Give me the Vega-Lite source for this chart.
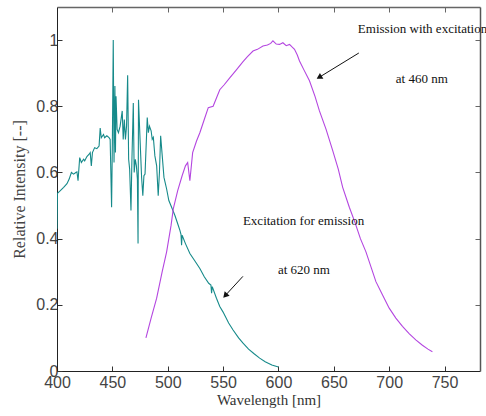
{
  "$schema": "https://vega.github.io/schema/vega-lite/v6.json",
  "width": 423,
  "height": 364,
  "autosize": "none",
  "padding": {"left": 57, "top": 7, "right": 6, "bottom": 45},
  "background": "white",
  "config": {
    "view": {"stroke": null},
    "axis": {"grid": false}
  },
  "datasets": {
    "curves": [
      {"wl": 400, "val": 0.43, "series": "Excitation"},
      {"wl": 400.4, "val": 0.537, "series": "Excitation"},
      {"wl": 403, "val": 0.545, "series": "Excitation"},
      {"wl": 406, "val": 0.555, "series": "Excitation"},
      {"wl": 409, "val": 0.566, "series": "Excitation"},
      {"wl": 411, "val": 0.58, "series": "Excitation"},
      {"wl": 413, "val": 0.6, "series": "Excitation"},
      {"wl": 415, "val": 0.595, "series": "Excitation"},
      {"wl": 417, "val": 0.6, "series": "Excitation"},
      {"wl": 418, "val": 0.602, "series": "Excitation"},
      {"wl": 419, "val": 0.575, "series": "Excitation"},
      {"wl": 420.5, "val": 0.645, "series": "Excitation"},
      {"wl": 422, "val": 0.63, "series": "Excitation"},
      {"wl": 424, "val": 0.64, "series": "Excitation"},
      {"wl": 425, "val": 0.635, "series": "Excitation"},
      {"wl": 427, "val": 0.648, "series": "Excitation"},
      {"wl": 429, "val": 0.655, "series": "Excitation"},
      {"wl": 430, "val": 0.66, "series": "Excitation"},
      {"wl": 431, "val": 0.62, "series": "Excitation"},
      {"wl": 432, "val": 0.66, "series": "Excitation"},
      {"wl": 434, "val": 0.675, "series": "Excitation"},
      {"wl": 436, "val": 0.672, "series": "Excitation"},
      {"wl": 438, "val": 0.68, "series": "Excitation"},
      {"wl": 439, "val": 0.734, "series": "Excitation"},
      {"wl": 440, "val": 0.705, "series": "Excitation"},
      {"wl": 442, "val": 0.715, "series": "Excitation"},
      {"wl": 443, "val": 0.705, "series": "Excitation"},
      {"wl": 445, "val": 0.711, "series": "Excitation"},
      {"wl": 447, "val": 0.705, "series": "Excitation"},
      {"wl": 448, "val": 0.7, "series": "Excitation"},
      {"wl": 449.3, "val": 0.495, "series": "Excitation"},
      {"wl": 450, "val": 0.69, "series": "Excitation"},
      {"wl": 450.8, "val": 1.0, "series": "Excitation"},
      {"wl": 451.5, "val": 0.63, "series": "Excitation"},
      {"wl": 452.3, "val": 0.861, "series": "Excitation"},
      {"wl": 452.8, "val": 0.66, "series": "Excitation"},
      {"wl": 453.3, "val": 0.83, "series": "Excitation"},
      {"wl": 454.3, "val": 0.73, "series": "Excitation"},
      {"wl": 455.5, "val": 0.72, "series": "Excitation"},
      {"wl": 457, "val": 0.74, "series": "Excitation"},
      {"wl": 458.9, "val": 0.786, "series": "Excitation"},
      {"wl": 459.8, "val": 0.7, "series": "Excitation"},
      {"wl": 460.8, "val": 0.76, "series": "Excitation"},
      {"wl": 461.8, "val": 0.7, "series": "Excitation"},
      {"wl": 462.8, "val": 0.74, "series": "Excitation"},
      {"wl": 463.8, "val": 0.894, "series": "Excitation"},
      {"wl": 464.7, "val": 0.64, "series": "Excitation"},
      {"wl": 465.6, "val": 0.61, "series": "Excitation"},
      {"wl": 466.8, "val": 0.485, "series": "Excitation"},
      {"wl": 467.6, "val": 0.63, "series": "Excitation"},
      {"wl": 468.9, "val": 0.81, "series": "Excitation"},
      {"wl": 469.7, "val": 0.6, "series": "Excitation"},
      {"wl": 470.7, "val": 0.64, "series": "Excitation"},
      {"wl": 471.7, "val": 0.62, "series": "Excitation"},
      {"wl": 472.6, "val": 0.58, "series": "Excitation"},
      {"wl": 473.2, "val": 0.385, "series": "Excitation"},
      {"wl": 473.6, "val": 0.82, "series": "Excitation"},
      {"wl": 475, "val": 0.7, "series": "Excitation"},
      {"wl": 476.4, "val": 0.585, "series": "Excitation"},
      {"wl": 477.5, "val": 0.53, "series": "Excitation"},
      {"wl": 478.5, "val": 0.59, "series": "Excitation"},
      {"wl": 479.5, "val": 0.595, "series": "Excitation"},
      {"wl": 481.5, "val": 0.766, "series": "Excitation"},
      {"wl": 482.5, "val": 0.72, "series": "Excitation"},
      {"wl": 483.5, "val": 0.74, "series": "Excitation"},
      {"wl": 485, "val": 0.726, "series": "Excitation"},
      {"wl": 486, "val": 0.7, "series": "Excitation"},
      {"wl": 487, "val": 0.706, "series": "Excitation"},
      {"wl": 488.4, "val": 0.65, "series": "Excitation"},
      {"wl": 490, "val": 0.62, "series": "Excitation"},
      {"wl": 491.4, "val": 0.53, "series": "Excitation"},
      {"wl": 492.5, "val": 0.6, "series": "Excitation"},
      {"wl": 493.6, "val": 0.711, "series": "Excitation"},
      {"wl": 494.8, "val": 0.66, "series": "Excitation"},
      {"wl": 496.6, "val": 0.585, "series": "Excitation"},
      {"wl": 499, "val": 0.55, "series": "Excitation"},
      {"wl": 501, "val": 0.515, "series": "Excitation"},
      {"wl": 503.5, "val": 0.495, "series": "Excitation"},
      {"wl": 506.5, "val": 0.47, "series": "Excitation"},
      {"wl": 509, "val": 0.445, "series": "Excitation"},
      {"wl": 511, "val": 0.425, "series": "Excitation"},
      {"wl": 512, "val": 0.412, "series": "Excitation"},
      {"wl": 512.5, "val": 0.38, "series": "Excitation"},
      {"wl": 513, "val": 0.41, "series": "Excitation"},
      {"wl": 516, "val": 0.385, "series": "Excitation"},
      {"wl": 520, "val": 0.355, "series": "Excitation"},
      {"wl": 525, "val": 0.33, "series": "Excitation"},
      {"wl": 529, "val": 0.31, "series": "Excitation"},
      {"wl": 533, "val": 0.285, "series": "Excitation"},
      {"wl": 537, "val": 0.265, "series": "Excitation"},
      {"wl": 539, "val": 0.26, "series": "Excitation"},
      {"wl": 539.6, "val": 0.235, "series": "Excitation"},
      {"wl": 540.2, "val": 0.255, "series": "Excitation"},
      {"wl": 544, "val": 0.22, "series": "Excitation"},
      {"wl": 547, "val": 0.195, "series": "Excitation"},
      {"wl": 550, "val": 0.178, "series": "Excitation"},
      {"wl": 555, "val": 0.145, "series": "Excitation"},
      {"wl": 559, "val": 0.124, "series": "Excitation"},
      {"wl": 564, "val": 0.1, "series": "Excitation"},
      {"wl": 568, "val": 0.084, "series": "Excitation"},
      {"wl": 573, "val": 0.066, "series": "Excitation"},
      {"wl": 578, "val": 0.052, "series": "Excitation"},
      {"wl": 583, "val": 0.039, "series": "Excitation"},
      {"wl": 588, "val": 0.028, "series": "Excitation"},
      {"wl": 594, "val": 0.018, "series": "Excitation"},
      {"wl": 600, "val": 0.012, "series": "Excitation"},
      {"wl": 480.3, "val": 0.1, "series": "Emission"},
      {"wl": 485, "val": 0.16, "series": "Emission"},
      {"wl": 490, "val": 0.22, "series": "Emission"},
      {"wl": 495, "val": 0.3, "series": "Emission"},
      {"wl": 499, "val": 0.36, "series": "Emission"},
      {"wl": 503, "val": 0.44, "series": "Emission"},
      {"wl": 505, "val": 0.49, "series": "Emission"},
      {"wl": 509, "val": 0.545, "series": "Emission"},
      {"wl": 513, "val": 0.59, "series": "Emission"},
      {"wl": 516, "val": 0.62, "series": "Emission"},
      {"wl": 518, "val": 0.63, "series": "Emission"},
      {"wl": 520, "val": 0.575, "series": "Emission"},
      {"wl": 522.5, "val": 0.66, "series": "Emission"},
      {"wl": 526, "val": 0.695, "series": "Emission"},
      {"wl": 529, "val": 0.72, "series": "Emission"},
      {"wl": 533, "val": 0.76, "series": "Emission"},
      {"wl": 536.6, "val": 0.796, "series": "Emission"},
      {"wl": 541, "val": 0.8, "series": "Emission"},
      {"wl": 544, "val": 0.825, "series": "Emission"},
      {"wl": 547, "val": 0.85, "series": "Emission"},
      {"wl": 551, "val": 0.865, "series": "Emission"},
      {"wl": 556, "val": 0.886, "series": "Emission"},
      {"wl": 562, "val": 0.91, "series": "Emission"},
      {"wl": 568, "val": 0.935, "series": "Emission"},
      {"wl": 572, "val": 0.95, "series": "Emission"},
      {"wl": 577, "val": 0.967, "series": "Emission"},
      {"wl": 581, "val": 0.972, "series": "Emission"},
      {"wl": 586, "val": 0.982, "series": "Emission"},
      {"wl": 590, "val": 0.985, "series": "Emission"},
      {"wl": 593, "val": 0.99, "series": "Emission"},
      {"wl": 595, "val": 0.998, "series": "Emission"},
      {"wl": 598, "val": 0.988, "series": "Emission"},
      {"wl": 601, "val": 0.987, "series": "Emission"},
      {"wl": 604, "val": 0.992, "series": "Emission"},
      {"wl": 607, "val": 0.983, "series": "Emission"},
      {"wl": 610, "val": 0.987, "series": "Emission"},
      {"wl": 612, "val": 0.98, "series": "Emission"},
      {"wl": 614.5, "val": 0.972, "series": "Emission"},
      {"wl": 617, "val": 0.955, "series": "Emission"},
      {"wl": 619, "val": 0.937, "series": "Emission"},
      {"wl": 623, "val": 0.91, "series": "Emission"},
      {"wl": 628, "val": 0.877, "series": "Emission"},
      {"wl": 633, "val": 0.83, "series": "Emission"},
      {"wl": 637, "val": 0.786, "series": "Emission"},
      {"wl": 643, "val": 0.73, "series": "Emission"},
      {"wl": 649, "val": 0.666, "series": "Emission"},
      {"wl": 654, "val": 0.61, "series": "Emission"},
      {"wl": 658, "val": 0.555, "series": "Emission"},
      {"wl": 664, "val": 0.495, "series": "Emission"},
      {"wl": 669, "val": 0.45, "series": "Emission"},
      {"wl": 674, "val": 0.4, "series": "Emission"},
      {"wl": 679, "val": 0.36, "series": "Emission"},
      {"wl": 684, "val": 0.31, "series": "Emission"},
      {"wl": 688, "val": 0.27, "series": "Emission"},
      {"wl": 694, "val": 0.23, "series": "Emission"},
      {"wl": 700, "val": 0.19, "series": "Emission"},
      {"wl": 706, "val": 0.16, "series": "Emission"},
      {"wl": 712, "val": 0.135, "series": "Emission"},
      {"wl": 718, "val": 0.113, "series": "Emission"},
      {"wl": 724, "val": 0.094, "series": "Emission"},
      {"wl": 730, "val": 0.078, "series": "Emission"},
      {"wl": 735, "val": 0.066, "series": "Emission"},
      {"wl": 739, "val": 0.058, "series": "Emission"}
    ],
    "notes": [
      {"wl": 671.7, "val": 1.033, "label": "Emission with excitation"},
      {"wl": 706, "val": 0.883, "label": "at 460 nm"},
      {"wl": 567.9, "val": 0.452, "label": "Excitation for emission"},
      {"wl": 599.5, "val": 0.304, "label": "at 620 nm"}
    ],
    "arrows": [
      {"id": "a", "x1": 672.6, "y1": 0.961, "x2": 637.5, "y2": 0.889},
      {"id": "b", "x1": 567.9, "y1": 0.286, "x2": 552.5, "y2": 0.23}
    ]
  },
  "resolve": {"axis": {"x": "independent", "y": "independent"}},
  "layer": [
    {
      "data": {"name": "curves"},
      "mark": {"type": "line", "strokeWidth": 1.1, "clip": true},
      "encoding": {
        "x": {
          "field": "wl", "type": "quantitative",
          "scale": {"domain": [400, 782], "nice": false, "zero": false},
          "axis": {
            "orient": "bottom", "values": [400, 450, 500, 550, 600, 650, 700, 750],
            "title": "Wavelength [nm]", "titleFont": "Liberation Serif", "titleFontSize": 15,
            "titleFontWeight": "normal", "titleColor": "#333", "titlePadding": 2,
            "labelFont": "Liberation Sans", "labelFontSize": 16, "labelColor": "#444",
            "labelPadding": 8, "tickSize": -5, "tickColor": "#333", "domainColor": "#222",
            "labelFlush": false, "labelOverlap": false
          }
        },
        "y": {
          "field": "val", "type": "quantitative",
          "scale": {"domain": [0, 1.1], "nice": false, "zero": false},
          "axis": {
            "orient": "left", "values": [0, 0.2, 0.4, 0.6, 0.8, 1], "format": "~g",
            "title": "Relative Intensity [--]", "titleFont": "Liberation Serif", "titleFontSize": 16,
            "titleFontWeight": "normal", "titleColor": "#444", "titlePadding": 8,
            "labelFont": "Liberation Sans", "labelFontSize": 16, "labelColor": "#444",
            "labelPadding": 4, "tickSize": -5, "tickColor": "#333", "domainColor": "#222",
            "labelFlush": false, "labelOverlap": false
          }
        },
        "color": {
          "field": "series", "type": "nominal",
          "scale": {"domain": ["Excitation", "Emission"], "range": ["#168a8a", "#b446e0"]},
          "legend": null
        }
      }
    },
    {
      "data": {"name": "notes"},
      "mark": {"type": "text", "align": "left", "baseline": "middle", "font": "Liberation Serif", "fontSize": 13, "color": "#111", "clip": false},
      "encoding": {
        "x": {
          "field": "wl", "type": "quantitative",
          "axis": {
            "orient": "top", "values": [450, 500, 550, 600, 650, 700, 750], "labels": false,
            "title": null, "tickSize": -5, "tickColor": "#666", "domainColor": "#666", "domainWidth": 1.5
          }
        },
        "y": {
          "field": "val", "type": "quantitative",
          "axis": {
            "orient": "right", "values": [0.2, 0.4, 0.6, 0.8, 1], "labels": false,
            "title": null, "tickSize": -5, "tickColor": "#666", "domainColor": "#555", "domainWidth": 1.5
          }
        },
        "text": {"field": "label"}
      }
    },
    {
      "data": {"name": "arrows"},
      "mark": {"type": "rule", "color": "#111", "strokeWidth": 1},
      "encoding": {
        "x": {"field": "x1", "type": "quantitative", "axis": null},
        "y": {"field": "y1", "type": "quantitative", "axis": null},
        "x2": {"field": "x2"},
        "y2": {"field": "y2"}
      }
    },
    {
      "data": {"name": "arrows"},
      "transform": [{"filter": "datum.id == 'a'"}],
      "mark": {"type": "point", "shape": "triangle", "filled": true, "color": "#111", "size": 45, "angle": 239, "opacity": 1},
      "encoding": {
        "x": {"field": "x2", "type": "quantitative", "axis": null},
        "y": {"field": "y2", "type": "quantitative", "axis": null}
      }
    },
    {
      "data": {"name": "arrows"},
      "transform": [{"filter": "datum.id == 'b'"}],
      "mark": {"type": "point", "shape": "triangle", "filled": true, "color": "#111", "size": 45, "angle": 222, "opacity": 1},
      "encoding": {
        "x": {"field": "x2", "type": "quantitative", "axis": null},
        "y": {"field": "y2", "type": "quantitative", "axis": null}
      }
    }
  ]
}
